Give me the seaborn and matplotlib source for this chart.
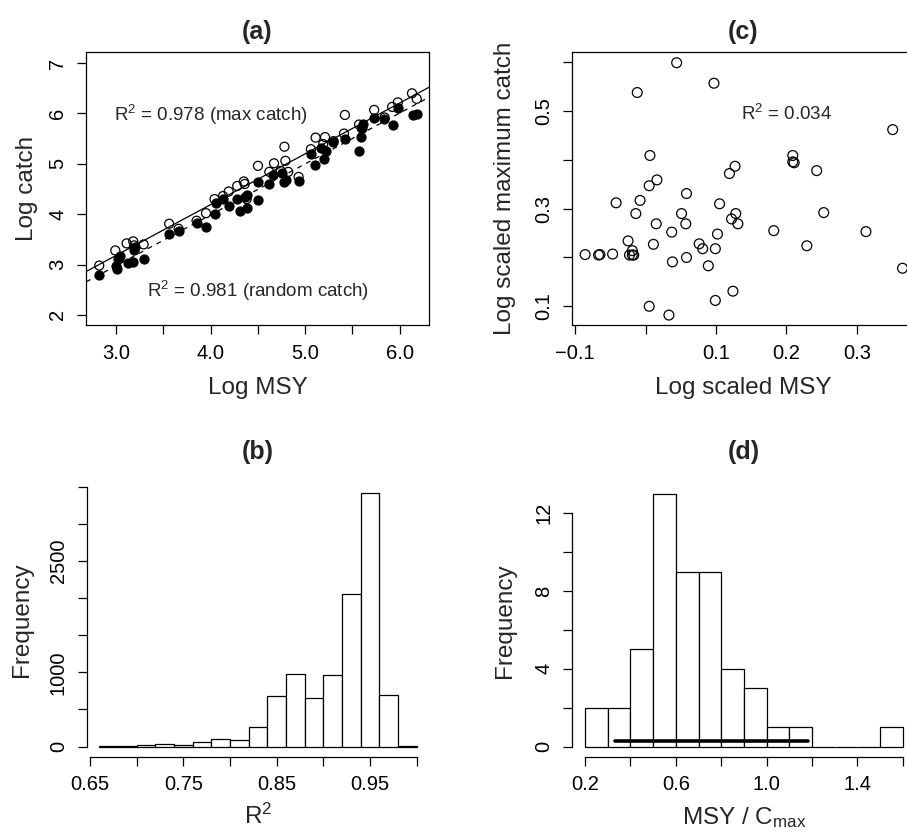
# MSY vs catch: scatter panels (a), (c) and histograms (b), (d)

import numpy as np
import matplotlib
matplotlib.use("Agg")
import matplotlib.pyplot as plt
import seaborn as sns

# ---- data ----
# (a) log MSY vs log catch
msy_open = [2.82, 2.99, 3.11, 3.18, 3.19, 3.29, 3.56, 3.66, 3.85, 3.95,
            4.04, 4.13, 4.19, 4.28, 4.35, 4.36, 4.38, 4.50, 4.62, 4.67,
            4.74, 4.78, 4.79, 4.82, 4.93, 5.06, 5.11, 5.19, 5.21, 5.30,
            5.41, 5.42, 5.57, 5.60, 5.73, 5.84, 5.92, 5.98, 6.13, 6.18]
catch_max = [2.98, 3.28, 3.42, 3.46, 3.38, 3.40, 3.81, 3.71, 3.87, 4.02,
             4.30, 4.36, 4.45, 4.56, 4.65, 4.60, 4.30, 4.96, 4.84, 5.01,
             4.86, 5.34, 5.06, 4.84, 4.74, 5.29, 5.52, 5.39, 5.53, 5.45,
             5.60, 5.97, 5.78, 5.70, 6.07, 5.92, 6.13, 6.22, 6.40, 6.29]
msy_filled = [2.82, 3.00, 3.01, 3.02, 3.04, 3.12, 3.18, 3.19, 3.20, 3.29,
              3.56, 3.66, 3.86, 3.95, 4.04, 4.06, 4.13, 4.19, 4.28, 4.31,
              4.38, 4.36, 4.38, 4.50, 4.50, 4.62, 4.66, 4.75, 4.78, 4.80,
              4.93, 5.06, 5.10, 5.17, 5.20, 5.22, 5.29, 5.42, 5.57, 5.59,
              5.60, 5.61, 5.73, 5.83, 5.93, 5.98, 6.14, 6.18]
catch_random = [2.79, 2.98, 2.91, 3.12, 3.16, 3.03, 3.06, 3.29, 3.34, 3.11,
                3.60, 3.67, 3.82, 3.75, 4.00, 4.23, 4.30, 4.17, 4.30, 4.07,
                4.12, 4.35, 4.38, 4.63, 4.28, 4.59, 4.78, 4.81, 4.63, 4.68,
                4.66, 5.19, 4.98, 5.31, 5.09, 5.25, 5.44, 5.49, 5.26, 5.53,
                5.72, 5.80, 5.90, 5.89, 5.78, 6.10, 5.97, 5.98]
fit_max = (0.159, 1.008)      # intercept, slope
fit_random = (-0.052, 1.010)

# (c) log scaled MSY vs log scaled max catch
scaled_msy = [0.044, 0.097, -0.012, 0.351, 0.006, 0.209, 0.211, 0.209, 0.127, 0.119,
              0.243, 0.016, 0.005, 0.058, -0.042, -0.008, 0.105, -0.014, 0.051, 0.128,
              0.253, 0.015, 0.057, 0.122, 0.131, 0.037, 0.102, 0.182, 0.313, -0.025,
              0.011, 0.076, 0.081, 0.099, 0.229, -0.019, -0.019, -0.023, -0.017, -0.086,
              -0.065, -0.067, -0.047, 0.038, 0.058, 0.089, 0.365, 0.124, 0.099, 0.005,
              0.033]
scaled_max_catch = [0.599, 0.557, 0.538, 0.462, 0.409, 0.409, 0.394, 0.396, 0.387, 0.372,
                    0.378, 0.359, 0.347, 0.331, 0.312, 0.317, 0.310, 0.290, 0.290, 0.290,
                    0.292, 0.269, 0.269, 0.279, 0.269, 0.252, 0.248, 0.255, 0.253, 0.234,
                    0.227, 0.228, 0.218, 0.218, 0.224, 0.214, 0.205, 0.205, 0.205, 0.206,
                    0.206, 0.205, 0.207, 0.191, 0.200, 0.183, 0.178, 0.131, 0.112, 0.100,
                    0.082]

# (b) histogram of R^2
r2_edges = [0.66, 0.68, 0.70, 0.72, 0.74, 0.76, 0.78, 0.80, 0.82, 0.84,
            0.86, 0.88, 0.90, 0.92, 0.94, 0.96, 0.98, 1.00]
r2_counts = [5, 10, 20, 35, 25, 55, 105, 85, 270, 687,
             979, 656, 957, 2057, 3410, 696, 3]

# (d) histogram of MSY / Cmax
ratio_edges = [0.2, 0.3, 0.4, 0.5, 0.6, 0.7, 0.8, 0.9, 1.0, 1.1, 1.2, 1.3, 1.4, 1.5, 1.6]
ratio_counts = [2, 2, 5, 13, 9, 9, 4, 3, 1, 1, 0, 0, 0, 1]
ratio_range = (0.334, 1.184)
ratio_range_y = 0.27

# ---- style ----
sns.set_style("ticks")
plt.rcParams["font.family"] = ["Liberation Sans", "DejaVu Sans"]
plt.rcParams["mathtext.fontset"] = "custom"
plt.rcParams["mathtext.rm"] = "Liberation Sans"
plt.rcParams["mathtext.it"] = "Liberation Sans:italic"
plt.rcParams["axes.linewidth"] = 0.9
plt.rcParams["axes.edgecolor"] = "black"

TICK = 14.5
LAB = 17.5
TITLE = 18
ANN = 13.5

W, H = 907, 833
fig = plt.figure(figsize=(W / 100, H / 100), dpi=100)


def add_axes(left, top, width, height):
    return fig.add_axes([left / W, 1 - (top + height) / H, width / W, height / H])


def style_ticks(ax):
    ax.tick_params(axis="both", length=6.5, width=0.9, pad=7, labelsize=TICK,
                   color="black", labelcolor="black", direction="out")
    ax.tick_params(axis="y", labelrotation=90)
    for lab in ax.get_yticklabels():
        lab.set_va("center")


# (a)
ax_a = add_axes(86, 52, 343, 273)
sns.scatterplot(x=msy_open, y=catch_max, ax=ax_a, marker="o", s=42,
                facecolor="none", edgecolor="black", linewidth=0.9, zorder=3)
sns.scatterplot(x=msy_filled, y=catch_random, ax=ax_a, marker="o", s=42,
                color="black", edgecolor="black", linewidth=0.9, zorder=4)
ax_a.axline((0, fit_max[0]), slope=fit_max[1], color="black", lw=0.9)
ax_a.axline((0, fit_random[0]), slope=fit_random[1], color="black", lw=0.9,
            ls=(0, (4, 4)))
ax_a.set_xlim(2.68, 6.31)
ax_a.set_ylim(1.80, 7.22)
ax_a.set_xticks(np.arange(3.0, 6.01, 0.5))
ax_a.set_xticklabels(["3.0", "", "4.0", "", "5.0", "", "6.0"])
ax_a.set_yticks([2, 3, 4, 5, 6, 7])
ax_a.set_yticklabels(["2", "3", "4", "5", "6", "7"])
style_ticks(ax_a)
ax_a.text(4.0, 5.98, "R$^2$ = 0.978 (max catch)", ha="center", va="center", fontsize=ANN)
ax_a.text(4.5, 2.47, "R$^2$ = 0.981 (random catch)", ha="center", va="center", fontsize=ANN)
ax_a.set_xlabel("Log MSY", fontsize=LAB, va="center")
ax_a.xaxis.set_label_coords(0.5, -0.231)
ax_a.set_ylabel("Log catch", fontsize=LAB, va="center")
ax_a.yaxis.set_label_coords(-0.172, 0.5)
ax_a.set_title("(a)", fontsize=TITLE, fontweight="bold", y=1.074, va="center", pad=0)

# (c)
ax_c = add_axes(572, 52, 343, 273)
sns.scatterplot(x=scaled_msy, y=scaled_max_catch, ax=ax_c, marker="o", s=50,
                facecolor="none", edgecolor="black", linewidth=0.9)
ax_c.set_xlim(-0.1047, 0.3827)
ax_c.set_ylim(0.0617, 0.621)
ax_c.set_xticks([-0.1, 0.0, 0.1, 0.2, 0.3])
ax_c.set_xticklabels(["\u22120.1", "", "0.1", "0.2", "0.3"])
ax_c.set_yticks([0.1, 0.2, 0.3, 0.4, 0.5, 0.6])
ax_c.set_yticklabels(["0.1", "", "0.3", "", "0.5", ""])
style_ticks(ax_c)
ax_c.text(0.2, 0.495, "R$^2$ = 0.034", ha="center", va="center", fontsize=ANN)
ax_c.set_xlabel("Log scaled MSY", fontsize=LAB, va="center")
ax_c.xaxis.set_label_coords(0.5, -0.231)
ax_c.set_ylabel("Log scaled maximum catch", fontsize=LAB, va="center")
ax_c.yaxis.set_label_coords(-0.195, 0.5)
ax_c.set_title("(c)", fontsize=TITLE, fontweight="bold", y=1.074, va="center", pad=0)

# (b)
ax_b = add_axes(86.7, 483.2, 342.6, 273.5)
r2_centers = (np.array(r2_edges[:-1]) + np.array(r2_edges[1:])) / 2
sns.histplot(x=r2_centers, weights=r2_counts, bins=r2_edges, ax=ax_b,
             color="white", edgecolor="black", linewidth=0.9, alpha=1)
ax_b.set_xlim(0.6464, 1.0136)
ax_b.set_ylim(-136.4, 3546.4)
ax_b.set_xticks(np.arange(0.65, 1.001, 0.05))
ax_b.set_xticklabels(["0.65", "", "0.75", "", "0.85", "", "0.95", ""])
ax_b.set_yticks(np.arange(0, 3501, 500))
ax_b.set_yticklabels(["0", "", "1000", "", "", "2500", "", ""])
sns.despine(ax=ax_b)
ax_b.spines["left"].set_bounds(0, 3500)
ax_b.spines["bottom"].set_bounds(0.65, 1.00)
style_ticks(ax_b)
ax_b.set_xlabel("R$^2$", fontsize=LAB, va="center")
ax_b.xaxis.set_label_coords(0.5, -0.219)
ax_b.set_ylabel("Frequency", fontsize=LAB, va="center")
ax_b.yaxis.set_label_coords(-0.19, 0.5)
ax_b.set_title("(b)", fontsize=TITLE, fontweight="bold", y=1.115, va="center", pad=0)

# (d)
ax_d = add_axes(572.3, 483.7, 343.2, 273)
ratio_centers = (np.array(ratio_edges[:-1]) + np.array(ratio_edges[1:])) / 2
sns.histplot(x=ratio_centers, weights=ratio_counts, bins=ratio_edges, ax=ax_d,
             color="white", edgecolor="black", linewidth=0.9, alpha=1)
ax_d.plot(ratio_range, [ratio_range_y, ratio_range_y], color="black", lw=2.6,
          solid_capstyle="round")
ax_d.set_xlim(0.144, 1.656)
ax_d.set_ylim(-0.52, 13.52)
ax_d.set_xticks(np.arange(0.2, 1.61, 0.2))
ax_d.set_xticklabels(["0.2", "", "0.6", "", "1.0", "", "1.4", ""])
ax_d.set_yticks(np.arange(0, 13, 2))
ax_d.set_yticklabels(["0", "", "4", "", "8", "", "12"])
sns.despine(ax=ax_d)
ax_d.spines["left"].set_bounds(0, 12)
ax_d.spines["bottom"].set_bounds(0.2, 1.6)
style_ticks(ax_d)
ax_d.set_xlabel(r"MSY / C$_{\mathrm{max}}$", fontsize=LAB, va="center")
ax_d.xaxis.set_label_coords(0.5, -0.224)
ax_d.set_ylabel("Frequency", fontsize=LAB, va="center")
ax_d.yaxis.set_label_coords(-0.195, 0.5)
ax_d.set_title("(d)", fontsize=TITLE, fontweight="bold", y=1.115, va="center", pad=0)

fig.savefig("out.png", dpi=100, facecolor="white")
